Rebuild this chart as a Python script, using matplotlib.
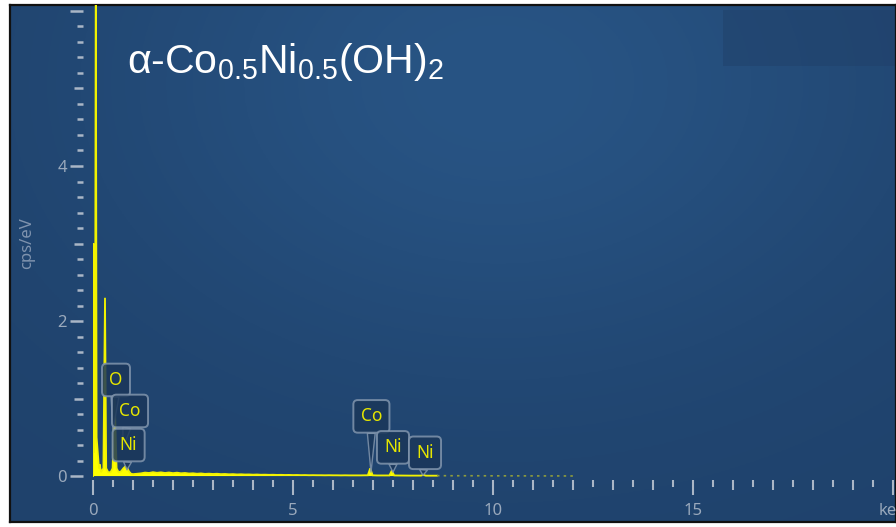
import numpy as np
import matplotlib
matplotlib.use("Agg")
import matplotlib.pyplot as plt
from matplotlib.patches import Rectangle

# ---------------- data ----------------
energy_keV = [
    0.00, 0.01, 0.02, 0.05, 0.07, 0.09, 0.12, 0.15, 0.17, 0.20, 0.26, 0.30, 0.33,
    0.38, 0.44, 0.49, 0.54, 0.59, 0.64, 0.70, 0.76, 0.80, 0.85, 0.90, 0.95,
    1.0, 1.1, 1.2, 1.3, 1.4, 1.5, 1.6, 1.7, 1.8, 1.9, 2.0, 2.1, 2.2, 2.3, 2.4,
    2.5, 2.6, 2.7, 2.8, 2.9, 3.0, 3.1, 3.2, 3.3, 3.4, 3.5, 3.6, 3.7, 3.8, 3.9,
    4.0, 4.1, 4.2, 4.3, 4.4, 4.5, 4.6, 4.7, 4.8, 4.9, 5.0, 5.1, 5.2, 5.3, 5.4,
    5.5, 5.6, 5.7, 5.8, 5.9, 6.0, 6.1, 6.2, 6.3, 6.4, 6.5, 6.6, 6.7, 6.8,
    6.87, 6.93, 6.99, 7.1, 7.2, 7.3, 7.41, 7.47, 7.53, 7.7, 7.9, 8.1, 8.2, 8.26,
    8.32, 8.6, 9.0, 9.5, 10.0, 10.5, 11.0, 11.5, 12.0,
]
counts_cps_per_eV = [
    0.00, 3.00, 0.30, 0.50, 6.90, 0.50, 0.30, 0.10, 0.15, 0.05, 0.10, 2.30, 0.10,
    0.05, 0.05, 0.10, 1.05, 0.10, 0.05, 0.06, 0.10, 0.12, 0.11, 0.06, 0.03,
    0.025, 0.030, 0.035, 0.045, 0.040, 0.050, 0.042, 0.048, 0.040, 0.046, 0.038,
    0.044, 0.036, 0.040, 0.033, 0.036, 0.030, 0.034, 0.028, 0.031, 0.027, 0.030,
    0.025, 0.027, 0.023, 0.025, 0.021, 0.023, 0.020, 0.021, 0.018, 0.020, 0.017,
    0.018, 0.016, 0.017, 0.015, 0.016, 0.014, 0.015, 0.013, 0.014, 0.012, 0.013,
    0.011, 0.012, 0.011, 0.011, 0.010, 0.011, 0.010, 0.010, 0.009, 0.010, 0.009,
    0.009, 0.009, 0.009, 0.010,
    0.010, 0.100, 0.010, 0.008, 0.008, 0.008, 0.008, 0.070, 0.008, 0.007, 0.006,
    0.006, 0.006, 0.016, 0.005, 0.005, 0.004, 0.004, 0.003, 0.003, 0.002, 0.002,
    0.001,
]

x_major_ticks = [0, 5, 10, 15, 20]
x_major_labels = ["0", "5", "10", "15", "keV"]
x_mid_ticks = [1, 2, 3, 4, 6, 7, 8, 9, 11, 12, 13, 14, 16, 17, 18, 19]
x_minor_ticks = [0.5, 1.5, 2.5, 3.5, 4.5, 5.5, 6.5, 7.5, 8.5, 9.5,
                 10.5, 11.5, 12.5, 13.5, 14.5, 15.5, 16.5, 17.5, 18.5, 19.5]
y_major_ticks = [0, 2, 4, 6]
y_major_labels = ["0", "2", "4", ""]
y_mid_ticks = [1, 3, 5]
y_minor_ticks = [0.2, 0.4, 0.6, 0.8, 1.2, 1.4, 1.6, 1.8, 2.2, 2.4, 2.6, 2.8,
                 3.2, 3.4, 3.6, 3.8, 4.2, 4.4, 4.6, 4.8, 5.2, 5.4, 5.6, 5.8]

peak_names = ["O", "Co", "Ni", "Co", "Ni", "Ni"]
peak_tip_E = [0.50, 0.75, 0.85, 6.95, 7.50, 8.25]
peak_tip_y = [0.60, 0.37, 0.08, 0.05, 0.05, 0.01]
label_E = [0.575, 0.925, 0.89, 6.96, 7.50, 8.30]
label_y = [1.24, 0.84, 0.40, 0.77, 0.37, 0.30]

title = r"α-Co$_\mathregular{0.5}$Ni$_\mathregular{0.5}$(OH)$_\mathregular{2}$"
y_label = "cps/eV"

# ---------------- figure ----------------
W, H = 896, 527
fig = plt.figure(figsize=(W / 100, H / 100), dpi=100)
fig.patch.set_facecolor("white")

# background panel with a soft gradient
bg = fig.add_axes([10 / W, 5 / H, 886 / W, 517 / H])
gh, gw = 200, 340
yy, xx = np.mgrid[0:1:gh * 1j, 0:1:gw * 1j]
base = np.array([31, 66, 108]) / 255.0
light = np.array([40, 84, 132]) / 255.0
w = np.exp(-(((xx - 0.55) / 0.45) ** 2 + ((yy - 0.15) / 0.55) ** 2))
img = base[None, None, :] * (1 - w[..., None]) + light[None, None, :] * w[..., None]
bg.imshow(img, aspect="auto", extent=[0, 1, 0, 1], origin="upper")
bg.set_xlim(0, 1)
bg.set_ylim(0, 1)
bg.set_xticks([])
bg.set_yticks([])
for s in bg.spines.values():
    s.set_color("#111111")
    s.set_linewidth(1.6)
bg.add_patch(Rectangle(((723 - 10) / 886, (522 - 66) / 517), 1.0, 56 / 517,
                       transform=bg.transAxes, facecolor="#203f68", alpha=0.45,
                       edgecolor="none"))

# main axes
ax_pos = [93 / W, (H - 478) / H, (W - 93) / W, (478 - 5) / H]
ax = fig.add_axes(ax_pos)
ax.set_facecolor("none")
ax.set_xlim(0, (W - 93) / 40.0)
ax.set_ylim(-0.025, 6.077)

E = np.array(energy_keV)
C = np.array(counts_cps_per_eV)
near = E <= 8.6
far = E >= 8.6
ax.fill_between(E[near], 0, C[near], color="#ffff00", linewidth=0)
ax.plot(E[near], C[near], color="#f2f200", lw=1.3, solid_joinstyle="miter")
ax.plot(E[far], C[far], color="#8e9c3c", lw=1.2, ls=(0, (1.5, 2.5)))

tick_col = "#aab6c6"
lab_col = "#9aa9bc"
for s in ax.spines.values():
    s.set_visible(False)
ax.spines["bottom"].set_position(("outward", 1.44))
ax.spines["left"].set_position(("outward", 7.2))

ax.set_xticks(x_major_ticks)
ax.set_xticklabels(x_major_labels)
ax.set_xticks(x_minor_ticks, minor=True)
ax.set_yticks(y_major_ticks)
ax.set_yticklabels(y_major_labels)
ax.set_yticks(y_minor_ticks, minor=True)
ax.tick_params(axis="x", which="major", direction="out", length=10.8, width=1.5,
               color=tick_col, labelcolor=lab_col, labelsize=12, pad=5.5)
ax.tick_params(axis="x", which="minor", direction="out", length=5.0, width=1.5,
               color=tick_col)
ax.tick_params(axis="y", which="major", direction="out", length=9.4, width=1.8,
               color=tick_col, labelcolor=lab_col, labelsize=12, pad=2.2)
ax.tick_params(axis="y", which="minor", direction="out", length=4.3, width=1.8,
               color=tick_col)
for t in ax.get_xticklabels() + ax.get_yticklabels():
    t.set_family("Noto Sans")

# medium ticks on an axes at the same position
axm = fig.add_axes(ax_pos)
axm.set_facecolor("none")
axm.set_xlim(ax.get_xlim())
axm.set_ylim(ax.get_ylim())
for s in axm.spines.values():
    s.set_visible(False)
axm.spines["bottom"].set_position(("outward", 1.44))
axm.spines["left"].set_position(("outward", 7.2))
axm.set_xticks(x_mid_ticks)
axm.set_yticks(y_mid_ticks)
axm.set_xticklabels([])
axm.set_yticklabels([])
axm.tick_params(axis="x", direction="out", length=7.2, width=1.5, color=tick_col)
axm.tick_params(axis="y", direction="out", length=6.5, width=1.8, color=tick_col)

# peak labels
for name, tx, ty, lx, ly in zip(peak_names, peak_tip_E, peak_tip_y, label_E, label_y):
    ax.annotate(name, xy=(tx, ty), xytext=(lx, ly), ha="center", va="center",
                fontsize=12.5, family="Noto Sans", color="#e6e600",
                bbox=dict(boxstyle="round,pad=0.42,rounding_size=0.25",
                          fc="#1b375a", ec="#8195ad", lw=1.4, alpha=0.85),
                arrowprops=dict(arrowstyle="wedge,tail_width=0.45,shrink_factor=0.5",
                                fc="#1b375a", ec="#8195ad", lw=1.0, alpha=0.85,
                                shrinkA=0, shrinkB=0),
                zorder=5)

fig.text(27 / W, 1 - 243 / H, y_label, rotation=90, ha="center", va="center",
         fontsize=12, color="#7f93ae", family="Noto Sans")
fig.text(127 / W, 1 - 73 / H, title, ha="left", va="baseline", fontsize=29.5,
         color="white", family="Liberation Sans")

fig.savefig("out.png", dpi=100, facecolor=fig.get_facecolor())
